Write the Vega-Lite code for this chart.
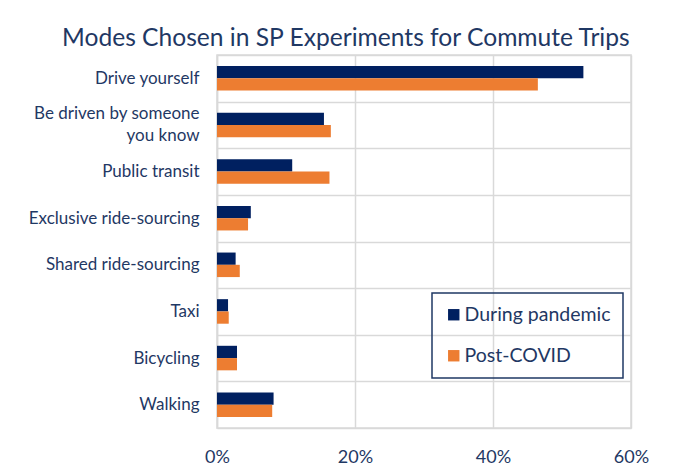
{
  "$schema": "https://vega.github.io/schema/vega-lite/v6.json",
  "width": 414,
  "height": 373,
  "autosize": {"type": "none"},
  "padding": {"left": 217, "top": 55, "right": 42, "bottom": 43},
  "background": "white",
  "title": {
    "text": "Modes Chosen in SP Experiments for Commute Trips",
    "anchor": "start",
    "frame": "group",
    "dx": -155,
    "offset": -25,
    "baseline": "alphabetic",
    "font": "Lato",
    "fontSize": 24.6,
    "fontWeight": "normal",
    "color": "#1F3864"
  },
  "data": {
    "values": [
      {"mode": "Drive yourself", "period": "During pandemic", "share": 53.1},
      {"mode": "Drive yourself", "period": "Post-COVID", "share": 46.5},
      {"mode": "Be driven by someone you know", "period": "During pandemic", "share": 15.5},
      {"mode": "Be driven by someone you know", "period": "Post-COVID", "share": 16.5},
      {"mode": "Public transit", "period": "During pandemic", "share": 10.9},
      {"mode": "Public transit", "period": "Post-COVID", "share": 16.3},
      {"mode": "Exclusive ride-sourcing", "period": "During pandemic", "share": 4.9},
      {"mode": "Exclusive ride-sourcing", "period": "Post-COVID", "share": 4.5},
      {"mode": "Shared ride-sourcing", "period": "During pandemic", "share": 2.7},
      {"mode": "Shared ride-sourcing", "period": "Post-COVID", "share": 3.3},
      {"mode": "Taxi", "period": "During pandemic", "share": 1.6},
      {"mode": "Taxi", "period": "Post-COVID", "share": 1.7},
      {"mode": "Bicycling", "period": "During pandemic", "share": 2.9},
      {"mode": "Bicycling", "period": "Post-COVID", "share": 2.9},
      {"mode": "Walking", "period": "During pandemic", "share": 8.2},
      {"mode": "Walking", "period": "Post-COVID", "share": 8.0}
    ]
  },
  "mark": {"type": "bar"},
  "encoding": {
    "y": {
      "field": "mode",
      "type": "nominal",
      "sort": null,
      "scale": {"paddingInner": 0, "paddingOuter": 0},
      "axis": {
        "title": null,
        "ticks": false,
        "domain": true,
        "domainColor": "#D9D9D9",
        "domainWidth": 1.5,
        "grid": true,
        "gridColor": "#D9D9D9",
        "gridWidth": 1.5,
        "tickBand": "extent",
        "labelFont": "Lato",
        "labelFontSize": 17,
        "labelColor": "#1F3864",
        "labelPadding": 18,
        "labelLineHeight": 22,
        "labelLimit": 300,
        "labelExpr": "datum.label == 'Be driven by someone you know' ? ['Be driven by someone', 'you know'] : datum.label",
        "labelOffset": {"condition": {"test": "datum.value == 'Be driven by someone you know'", "value": -11}, "value": 0}
      }
    },
    "yOffset": {
      "field": "period",
      "type": "nominal",
      "scale": {"paddingInner": 0, "paddingOuter": 0.9}
    },
    "x": {
      "field": "share",
      "type": "quantitative",
      "scale": {"domain": [0, 60], "nice": false},
      "axis": {
        "title": null,
        "values": [0, 20, 40, 60],
        "labelExpr": "datum.value + '%'",
        "ticks": false,
        "domain": false,
        "grid": true,
        "gridColor": "#D9D9D9",
        "gridWidth": 1.5,
        "labelFont": "Lato",
        "labelFontSize": 18,
        "labelColor": "#1F3864",
        "labelPadding": 20,
        "labelFlush": false
      }
    },
    "color": {
      "field": "period",
      "type": "nominal",
      "scale": {"domain": ["During pandemic", "Post-COVID"], "range": ["#002060", "#ED7D31"]},
      "legend": {
        "title": null,
        "orient": "none",
        "legendX": 215,
        "legendY": 238,
        "direction": "vertical",
        "strokeColor": "#1F3864",
        "padding": 12,
        "symbolType": "square",
        "symbolSize": 130,
        "symbolStrokeWidth": 0,
        "labelFont": "Lato",
        "labelFontSize": 19.5,
        "labelColor": "#1F3864",
        "labelOffset": 1,
        "rowPadding": 20,
        "encode": {"legend": {"update": {"strokeWidth": {"value": 1.5}}}}
      }
    }
  },
  "config": {
    "view": {"stroke": "#D9D9D9", "strokeWidth": 1.5}
  }
}
